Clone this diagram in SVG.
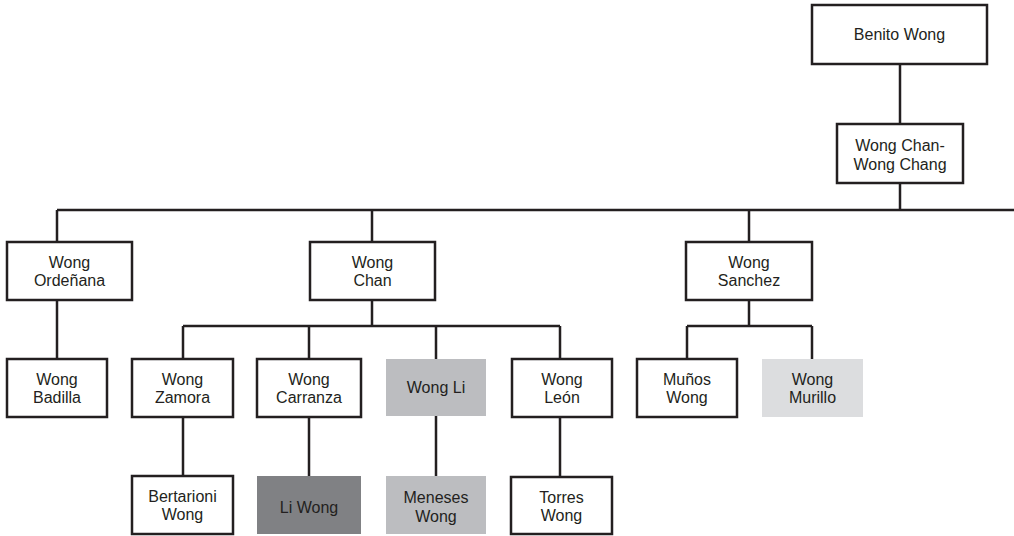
<svg xmlns="http://www.w3.org/2000/svg" width="1014" height="536" viewBox="0 0 1014 536">
  <style>
    .box { fill: #ffffff; stroke: #231f20; stroke-width: 2.5; }
    .mid { fill: #bcbdc0; stroke: none; }
    .dark { fill: #808184; stroke: none; }
    .light { fill: #dcdddf; stroke: none; }
    .lbl { font-family: "Liberation Sans", Arial, sans-serif; font-size: 16px; fill: #231f20; text-anchor: middle; }
    .wire { fill: none; stroke: #231f20; stroke-width: 2.5; }
  </style>
  <rect width="1014" height="536" fill="#ffffff"/>

  <!-- connectors -->
  <g id="connectors">
    <path class="wire" d="M900 64 V124"/>
    <path class="wire" d="M900 183 V210"/>
    <path class="wire" d="M57 210 H1014"/>
    <path class="wire" d="M57 210 V242 M372 210 V242 M749 210 V242"/>
    <path class="wire" d="M57 300 V359"/>
    <path class="wire" d="M372 300 V326 M183 326 H560 M183 326 V359 M309 326 V359 M436 326 V359 M560 326 V359"/>
    <path class="wire" d="M749 300 V326 M687 326 H812 M687 326 V359 M812 326 V359"/>
    <path class="wire" d="M183 417 V476 M309 417 V476 M436 416 V476 M560 417 V477"/>
  </g>

  <!-- nodes -->
  <g id="benito-wong">
    <rect class="box" x="812" y="5" width="175" height="59"/>
    <text class="lbl" x="899.5" y="40">Benito Wong</text>
  </g>
  <g id="wong-chan-wong-chang">
    <rect class="box" x="837" y="124" width="126" height="59"/>
    <text class="lbl" x="900" y="151">Wong Chan-</text>
    <text class="lbl" x="900" y="170">Wong Chang</text>
  </g>
  <g id="wong-ordenana">
    <rect class="box" x="7" y="242" width="125" height="58"/>
    <text class="lbl" x="69.5" y="268">Wong</text>
    <text class="lbl" x="69.5" y="286">Ordeñana</text>
  </g>
  <g id="wong-chan">
    <rect class="box" x="310" y="242" width="125" height="58"/>
    <text class="lbl" x="372.5" y="268">Wong</text>
    <text class="lbl" x="372.5" y="286">Chan</text>
  </g>
  <g id="wong-sanchez">
    <rect class="box" x="686" y="242" width="126" height="58"/>
    <text class="lbl" x="749" y="268">Wong</text>
    <text class="lbl" x="749" y="286">Sanchez</text>
  </g>
  <g id="wong-badilla">
    <rect class="box" x="7" y="359" width="100" height="58"/>
    <text class="lbl" x="57" y="385">Wong</text>
    <text class="lbl" x="57" y="403">Badilla</text>
  </g>
  <g id="wong-zamora">
    <rect class="box" x="132" y="359" width="101" height="58"/>
    <text class="lbl" x="182.5" y="385">Wong</text>
    <text class="lbl" x="182.5" y="403">Zamora</text>
  </g>
  <g id="wong-carranza">
    <rect class="box" x="257" y="359" width="104" height="58"/>
    <text class="lbl" x="309" y="385">Wong</text>
    <text class="lbl" x="309" y="403">Carranza</text>
  </g>
  <g id="wong-li">
    <rect class="mid" x="386" y="359" width="100" height="57"/>
    <text class="lbl" x="436" y="393">Wong Li</text>
  </g>
  <g id="wong-leon">
    <rect class="box" x="512" y="359" width="100" height="58"/>
    <text class="lbl" x="562" y="385">Wong</text>
    <text class="lbl" x="562" y="403">León</text>
  </g>
  <g id="munos-wong">
    <rect class="box" x="637" y="359" width="100" height="58"/>
    <text class="lbl" x="687" y="385">Muños</text>
    <text class="lbl" x="687" y="403">Wong</text>
  </g>
  <g id="wong-murillo">
    <rect class="light" x="762" y="359" width="101" height="58"/>
    <text class="lbl" x="812.5" y="385">Wong</text>
    <text class="lbl" x="812.5" y="403">Murillo</text>
  </g>
  <g id="bertarioni-wong">
    <rect class="box" x="132" y="476" width="101" height="58"/>
    <text class="lbl" x="182.5" y="502">Bertarioni</text>
    <text class="lbl" x="182.5" y="520">Wong</text>
  </g>
  <g id="li-wong">
    <rect class="dark" x="257" y="476" width="104" height="58"/>
    <text class="lbl" x="309" y="513">Li Wong</text>
  </g>
  <g id="meneses-wong">
    <rect class="mid" x="386" y="476" width="100" height="58"/>
    <text class="lbl" x="436" y="503">Meneses</text>
    <text class="lbl" x="436" y="522">Wong</text>
  </g>
  <g id="torres-wong">
    <rect class="box" x="511" y="477" width="101" height="57"/>
    <text class="lbl" x="561.5" y="503">Torres</text>
    <text class="lbl" x="561.5" y="521">Wong</text>
  </g>
</svg>
